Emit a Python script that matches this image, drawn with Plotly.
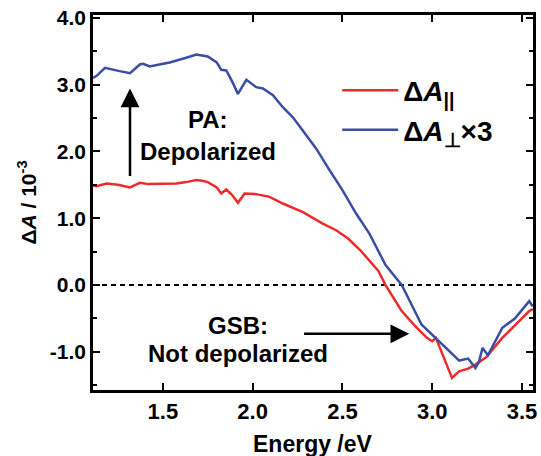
import plotly.graph_objects as go

# Data
e_par = [1.111, 1.13, 1.187, 1.25, 1.317, 1.372, 1.42, 1.465, 1.52, 1.576, 1.63, 1.687,
         1.72, 1.75, 1.80, 1.825, 1.853, 1.885, 1.918, 1.955, 2.02, 2.094, 2.168, 2.28,
         2.39, 2.465, 2.53, 2.60, 2.70, 2.74, 2.83, 2.90, 2.97, 3.00, 3.02, 3.06, 3.11,
         3.15, 3.20, 3.24, 3.30, 3.39, 3.46, 3.54, 3.56]
da_par = [1.49, 1.48, 1.52, 1.50, 1.46, 1.53, 1.51, 1.51, 1.52, 1.52, 1.54, 1.57,
          1.56, 1.54, 1.46, 1.37, 1.43, 1.35, 1.23, 1.37, 1.36, 1.32, 1.22, 1.09,
          0.92, 0.82, 0.70, 0.52, 0.21, 0.0, -0.39, -0.60, -0.79, -0.84, -0.79, -1.05, -1.39,
          -1.29, -1.25, -1.19, -1.08, -0.79, -0.60, -0.39, -0.36]

e_perp = [1.111, 1.131, 1.178, 1.22, 1.26, 1.317, 1.372, 1.39, 1.427, 1.48, 1.538, 1.63,
          1.687, 1.75, 1.80, 1.825, 1.853, 1.885, 1.918, 1.965, 2.02, 2.057, 2.113, 2.168,
          2.224, 2.28, 2.354, 2.428, 2.50, 2.576, 2.65, 2.74, 2.83, 2.94, 3.04, 3.10, 3.15,
          3.20, 3.24, 3.26, 3.28, 3.31, 3.39, 3.46, 3.54, 3.56]
da_perp3 = [3.10, 3.13, 3.25, 3.22, 3.20, 3.17, 3.30, 3.31, 3.27, 3.30, 3.33, 3.40,
            3.45, 3.42, 3.33, 3.22, 3.21, 3.05, 2.86, 3.07, 2.96, 2.94, 2.84, 2.66,
            2.51, 2.31, 2.04, 1.72, 1.42, 1.07, 0.77, 0.30, 0.0, -0.59, -0.84, -1.0, -1.13,
            -1.10, -1.24, -1.15, -0.94, -1.05, -0.64, -0.50, -0.24, -0.32]

x_ticks = [1.5, 2.0, 2.5, 3.0, 3.5]
x_tick_labels = ["1.5", "2.0", "2.5", "3.0", "3.5"]
y_ticks = [-1.0, 0.0, 1.0, 2.0, 3.0, 4.0]
y_tick_labels = ["-1.0", "0.0", "1.0", "2.0", "3.0", "4.0"]

x_range = [1.111, 3.561]
y_range = [-1.57, 4.04]

FONT = "Liberation Sans, Arial, sans-serif"
RED = "#ee2b2b"
BLUE = "#3a4ea2"

fig = go.Figure()
fig.add_trace(go.Scatter(x=x_range, y=[0, 0], mode="lines",
                         line=dict(color="black", width=2, dash="5px,4px"),
                         showlegend=False, hoverinfo="skip"))
fig.add_trace(go.Scatter(x=e_par, y=da_par, mode="lines",
                         line=dict(color=RED, width=2.5),
                         name="Δ<i>A</i><sub>||</sub>"))
fig.add_trace(go.Scatter(x=e_perp, y=da_perp3, mode="lines",
                         line=dict(color=BLUE, width=2.5),
                         name="Δ<i>A</i><sub>⊥</sub>×3"))

axis_common = dict(showline=True, linecolor="black", linewidth=2.5, mirror="allticks",
                   ticks="inside", ticklen=7, tickwidth=2, tickcolor="black",
                   showgrid=False, zeroline=False, automargin=False)

fig.update_xaxes(range=x_range, tickvals=x_ticks, ticktext=x_tick_labels,
                 tickfont=dict(family=FONT, size=22, color="black", weight="bold"),
                 **axis_common)
fig.update_yaxes(range=y_range, tickvals=y_ticks, ticktext=y_tick_labels,
                 tickfont=dict(family=FONT, size=21, color="black", weight="bold"),
                 minor=dict(dtick=0.5, tick0=0, ticks="inside", ticklen=4, tickwidth=2,
                            tickcolor="black"),
                 title=dict(text="Δ<i>A</i> / 10<sup>-3</sup>", standoff=8,
                            font=dict(family=FONT, size=21, color="black", weight="bold")),
                 **axis_common)

# x-axis title as paper-positioned text near the bottom edge, as in the reference
fig.add_annotation(x=0.5, y=0, xref="paper", yref="paper", yanchor="top", yshift=-39,
                   text="Energy /eV", showarrow=False,
                   font=dict(family=FONT, size=23, color="black", weight="bold"))

anno_font = dict(family=FONT, size=24, color="black", weight="bold")
fig.add_annotation(x=1.75, y=2.47, xref="x", yref="y", text="PA:", showarrow=False, font=anno_font)
fig.add_annotation(x=1.75, y=2.0, xref="x", yref="y", text="Depolarized", showarrow=False, font=anno_font)
fig.add_annotation(x=1.92, y=-0.6, xref="x", yref="y", text="GSB:", showarrow=False, font=anno_font)
fig.add_annotation(x=1.92, y=-1.03, xref="x", yref="y", text="Not depolarized", showarrow=False, font=anno_font)

fig.add_annotation(x=1.317, y=2.94, ax=1.317, ay=1.61, xref="x", yref="y", axref="x", ayref="y",
                   showarrow=True, arrowhead=2, arrowsize=1.5, arrowwidth=2.5, arrowcolor="black", text="")
fig.add_annotation(x=2.872, y=-0.73, ax=2.278, ay=-0.73, xref="x", yref="y", axref="x", ayref="y",
                   showarrow=True, arrowhead=2, arrowsize=1.5, arrowwidth=2.5, arrowcolor="black", text="")

fig.update_layout(
    width=541, height=456,
    margin=dict(l=93, r=8, t=15, b=66),
    paper_bgcolor="white", plot_bgcolor="white",
    showlegend=True,
    legend=dict(x=0.555, y=0.865, xanchor="left", yanchor="top",
                bgcolor="rgba(0,0,0,0)", itemwidth=56,
                font=dict(family=FONT, size=28, color="black", weight="bold")),
)

fig.write_html("out.html", config={"displayModeBar": False},
               post_script="document.body.style.margin='0';document.body.style.overflow='hidden';")
